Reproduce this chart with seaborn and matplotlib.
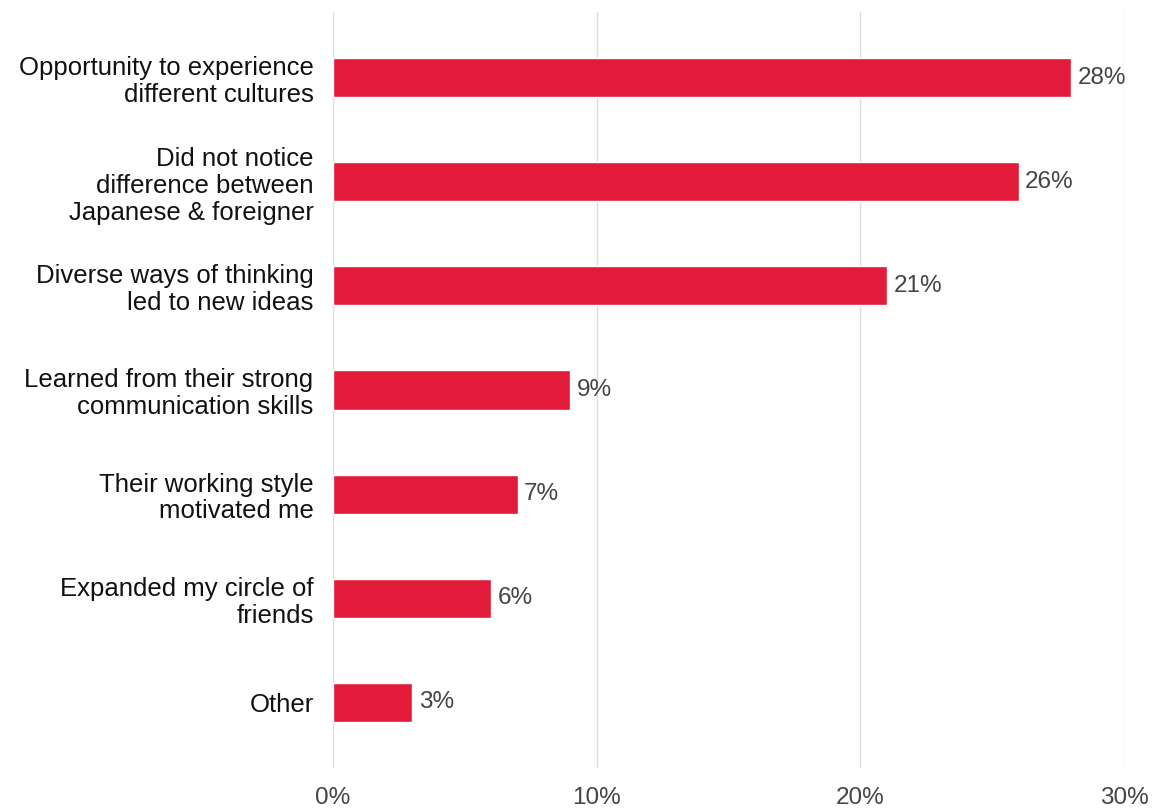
import matplotlib
matplotlib.use("Agg")
import matplotlib.pyplot as plt
import seaborn as sns
import pandas as pd

categories = [
    "Opportunity to experience\ndifferent cultures",
    "Did not notice\ndifference between\nJapanese & foreigner",
    "Diverse ways of thinking\nled to new ideas",
    "Learned from their strong\ncommunication skills",
    "Their working style\nmotivated me",
    "Expanded my circle of\nfriends",
    "Other",
]
values = [28, 26, 21, 9, 7, 6, 3]
x_ticks = [0, 10, 20, 30]
x_tick_labels = ["0%", "10%", "20%", "30%"]

sns.set_theme(style="white")
plt.rcParams["font.family"] = ["Liberation Sans", "DejaVu Sans"]

df = pd.DataFrame({"category": categories, "value": values})

fig = plt.figure(figsize=(11.54, 8.08), dpi=100)
ax = fig.add_axes([333 / 1154, 1 - 768 / 808, (1124 - 333) / 1154, (768 - 12) / 808])

sns.barplot(data=df, x="value", y="category", color="#E31B3A", width=0.375,
            saturation=1, ax=ax, zorder=3)

for i, v in enumerate(values):
    ax.text(v + 0.25, i, f"{v}%", va="center", ha="left", fontsize=17.5, color="#444444")

ax.set_xlim(0, 30)
ax.set_ylim(6.63, -0.63)
ax.set_xticks(x_ticks)
ax.set_xticklabels(x_tick_labels, fontsize=17.5, color="#444444")
ax.tick_params(axis="x", length=0, pad=14)
ax.tick_params(axis="y", length=0, pad=14, labelsize=18.5, labelcolor="#111111")
for lbl in ax.get_yticklabels():
    lbl.set_linespacing(1.15)
ax.set_xlabel("")
ax.set_ylabel("")
for s in ax.spines.values():
    s.set_visible(False)
ax.grid(axis="x", color="#DDDDDD", linewidth=1, zorder=0)
ax.grid(axis="y", visible=False)

fig.savefig("out.png", dpi=100)
